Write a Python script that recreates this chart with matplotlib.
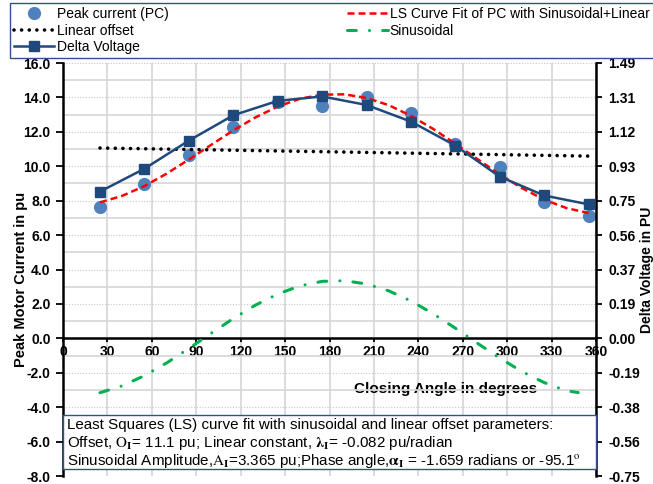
import numpy as np
import matplotlib
matplotlib.use('Agg')
import matplotlib.pyplot as plt
from matplotlib.patches import Rectangle

plt.rcParams['font.family'] = ['Liberation Sans', 'DejaVu Sans']
plt.rcParams['mathtext.fontset'] = 'stix'

# closing angle of each switching test (degrees)
angle = [25, 55, 85, 115, 145, 175, 205, 235, 265, 295, 325, 355]
# measured peak motor current (pu)
peak_current = [7.63, 8.99, 10.68, 12.28, 13.74, 13.50, 14.05, 13.10, 11.28, 9.96, 7.95, 7.09]
# delta voltage at closing (PU)
delta_voltage = [0.794, 0.918, 1.070, 1.207, 1.285, 1.309, 1.263, 1.173, 1.043, 0.875, 0.773, 0.725]

# least squares fit (sinusoidal + linear)
fit_angle = [25, 40, 55, 70, 85, 100, 115, 130, 145, 160, 175, 190,
             205, 220, 235, 250, 265, 280, 295, 310, 325, 340, 355]
fit_current = [7.90, 8.28, 8.85, 9.57, 10.39, 11.24, 12.08, 12.84, 13.47, 13.92, 14.16, 14.18,
               13.97, 13.55, 12.93, 12.17, 11.31, 10.41, 9.53, 8.73, 8.06, 7.57, 7.28]

# linear offset term of the fit
offset_angle = [25, 355]
offset_current = [11.06, 10.59]

# sinusoidal term of the fit
sin_angle = [25, 40, 55, 70, 85, 100, 115, 130, 145, 160, 175, 190,
             205, 220, 235, 250, 265, 280, 295, 310, 325, 340, 348]
sin_current = [-3.16, -2.76, -2.17, -1.43, -0.59, 0.29, 1.15, 1.93, 2.57, 3.05, 3.31, 3.35,
               3.16, 2.76, 2.17, 1.43, 0.59, -0.29, -1.15, -1.93, -2.57, -3.05, -3.15]

x_ticks = [0, 30, 60, 90, 120, 150, 180, 210, 240, 270, 300, 330, 360]
current_ticks = [-8, -6, -4, -2, 0, 2, 4, 6, 8, 10, 12, 14, 16]
current_minor = [-7, -5, -3, -1, 1, 3, 5, 7, 9, 11, 13, 15]
volt_max = 1.49
volt_labels = ['-0.75', '-0.56', '-0.38', '-0.19', '0.00', '0.19', '0.37',
               '0.56', '0.75', '0.93', '1.12', '1.31', '1.49']

blue = '#4F81BD'
navy = '#1F497D'
green = '#00B050'
frame = '#2F528F'

fig = plt.figure(figsize=(6.53, 4.84), dpi=100)
ax = fig.add_axes([63/653, 8/484, 533/653, 413/484])

ax.set_xlim(0, 360)
ax.set_ylim(-8, 16)
ax.set_xticks(x_ticks)
ax.set_yticks(current_ticks)
ax.set_yticks(current_minor, minor=True)
ax.set_yticklabels(['%.1f' % t for t in current_ticks])
ax.grid(axis='x', color='#d9d9d9', lw=1.3, ls='-')
ax.grid(axis='y', which='major', color='#c8c8c8', lw=0.8, ls=(0, (1, 1.5)))
ax.grid(axis='y', which='minor', color='#d9d9d9', lw=1.3, ls='-')
ax.set_axisbelow(True)

for s in ['top', 'right']:
    ax.spines[s].set_visible(False)
ax.spines['bottom'].set_position(('data', 0))
ax.spines['bottom'].set_linewidth(1.8)
ax.spines['left'].set_linewidth(1.8)
ax.tick_params(axis='y', which='major', direction='out', length=5, width=1.3,
               pad=4, labelsize=10)
ax.tick_params(axis='y', which='minor', length=0)
ax.tick_params(axis='x', direction='out', length=3, width=1.3, pad=2, labelsize=10)
for lab in ax.get_xticklabels() + ax.get_yticklabels():
    lab.set_fontweight('bold')

pc, = ax.plot(angle, peak_current, 'o', ms=8.5, color=blue, zorder=3,
              label='Peak current (PC)')
fit, = ax.plot(fit_angle, fit_current, color='red', lw=1.8,
               ls=(0, (2.8, 1.6)), zorder=4,
               label='LS Curve Fit of PC with Sinusoidal+Linear')
lin, = ax.plot(offset_angle, offset_current, color='black', lw=2.6,
               ls=(0, (0.01, 2.1)), dash_capstyle='round', zorder=4,
               label='Linear offset')
sinus, = ax.plot(sin_angle, sin_current, color=green, lw=2.2,
                 ls=(0, (2.9, 4.3, 0.01, 4.3)), dash_capstyle='round', zorder=4,
                 label='Sinusoidal')

ax.set_ylabel('Peak Motor Current in pu', fontsize=10.5, fontweight='bold')
ax.yaxis.set_label_coords(-0.066, 0.477)
ax.set_xlabel('Closing Angle in degrees', fontsize=11, fontweight='bold')
ax.xaxis.set_label_coords(0.717, 0.228)

# secondary axis for the delta voltage
ax2 = ax.twinx()
ax2.set_ylim(-volt_max / 2, volt_max)
ax2.set_yticks(np.array(current_ticks) * volt_max / 16)
ax2.set_yticklabels(volt_labels)
for s in ['top', 'bottom', 'left']:
    ax2.spines[s].set_visible(False)
ax2.spines['right'].set_linewidth(1.8)
ax2.tick_params(axis='y', direction='out', length=4, width=1.3, pad=5, labelsize=10)
for lab in ax2.get_yticklabels():
    lab.set_fontweight('bold')
dv, = ax2.plot(angle, delta_voltage, '-s', color=navy, lw=1.8, ms=7,
               zorder=5, label='Delta Voltage')
ax2.set_ylabel('Delta Voltage in PU', fontsize=10, fontweight='bold')
ax2.yaxis.set_label_coords(1.0826, 0.5)

# parameter box
ax2.add_patch(Rectangle((0, 0.017), 1, 0.131, transform=ax2.transAxes,
                        facecolor='white', edgecolor=frame, lw=1, zorder=10,
                        clip_on=False))
box_lines = [
    'Least Squares (LS) curve fit with sinusoidal and linear offset parameters:',
    r'Offset, $\mathrm{O}_{\mathbf{I}}$= 11.1 pu; Linear constant, '
    r'$\mathbf{\lambda}_{\mathbf{I}}$= -0.082 pu/radian',
    r'Sinusoidal Amplitude,$\mathrm{A}_{\mathbf{I}}$=3.365 pu;Phase angle,'
    r'$\mathbf{\alpha}_{\mathbf{I}}$ = -1.659 radians or -95.1$^{\mathrm{o}}$',
]
for i, line in enumerate(box_lines):
    ax2.text(0.0075, 0.1235 - 0.0435 * i, line, transform=ax2.transAxes,
             fontsize=10.9, va='center', ha='left', zorder=11)

leg = fig.legend([pc, lin, dv, fit, sinus],
                 [h.get_label() for h in [pc, lin, dv, fit, sinus]],
                 ncol=2, loc='upper left', bbox_to_anchor=(10/653, 1 - 3/484),
                 fontsize=10, handlelength=2.9, handletextpad=0.15,
                 columnspacing=12.9, labelspacing=0.17, borderpad=0.3,
                 borderaxespad=0, fancybox=False, framealpha=1,
                 edgecolor=frame)
leg.get_frame().set_linewidth(1)

fig.savefig('out.png', dpi=100)
